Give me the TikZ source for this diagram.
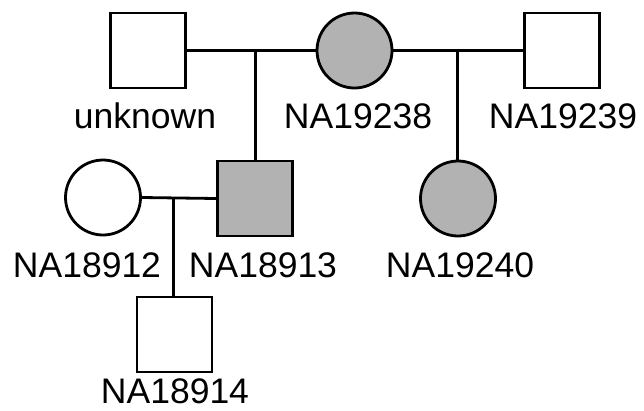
\documentclass[tikz,border=0pt]{standalone}
\usepackage{fontspec}
\setmainfont{Liberation Sans}
\begin{document}
\begin{tikzpicture}[x=1pt,y=-1pt,
  person/.style={draw=black,line width=2.8pt,inner sep=0pt,minimum size=75pt},
  male/.style={person,rectangle},
  female/.style={person,circle},
  affected/.style={fill=black!30},
  unaffected/.style={fill=white},
  lbl/.style={anchor=base,inner sep=0pt,font=\fontsize{35.5}{40}\selectfont},
  link/.style={line width=2.8pt}]
\useasboundingbox (0,0) rectangle (644,410);
% generation I
\node[male,unaffected] (unk) at (148,50.5) {};
\node[female,affected] (n19238) at (354.5,50.5) {};
\node[male,unaffected] (n19239) at (562,50.5) {};
% generation II
\node[female,unaffected] (n18912) at (103,197.5) {};
\node[male,affected] (n18913) at (255,198.5) {};
\node[female,affected] (n19240) at (458,198.5) {};
% generation III
\node[male,unaffected] (n18914) at (174.5,334.5) {};
% labels
\node[lbl] (l0) at (145,128) {unknown};
\node[lbl] (l1) at (358,128) {NA19238};
\node[lbl] (l2) at (563,128) {NA19239};
\node[lbl] (l3) at (87,277) {NA18912};
\node[lbl] (l4) at (263,277) {NA18913};
\node[lbl] (l5) at (460,277) {NA19240};
\node[lbl] (l6) at (175,403) {NA18914};
% marriage points
\coordinate (m1) at (255.5,50.5);
\coordinate (m2) at (457.7,50.5);
\coordinate (m3) at (173.3,197.5);
% connectors
\draw[link] (unk.east) -- (n19238.west);
\draw[link] (n19238.east) -- (n19239.west);
\draw[link] (n18912.east) -- (n18913.west);
\draw[link] (m1) -- (m1 |- n18913.north);
\draw[link] (m2) -- (m2 |- n19240.north);
\draw[link] (m3) -- (m3 |- n18914.north);
\end{tikzpicture}
\end{document}
